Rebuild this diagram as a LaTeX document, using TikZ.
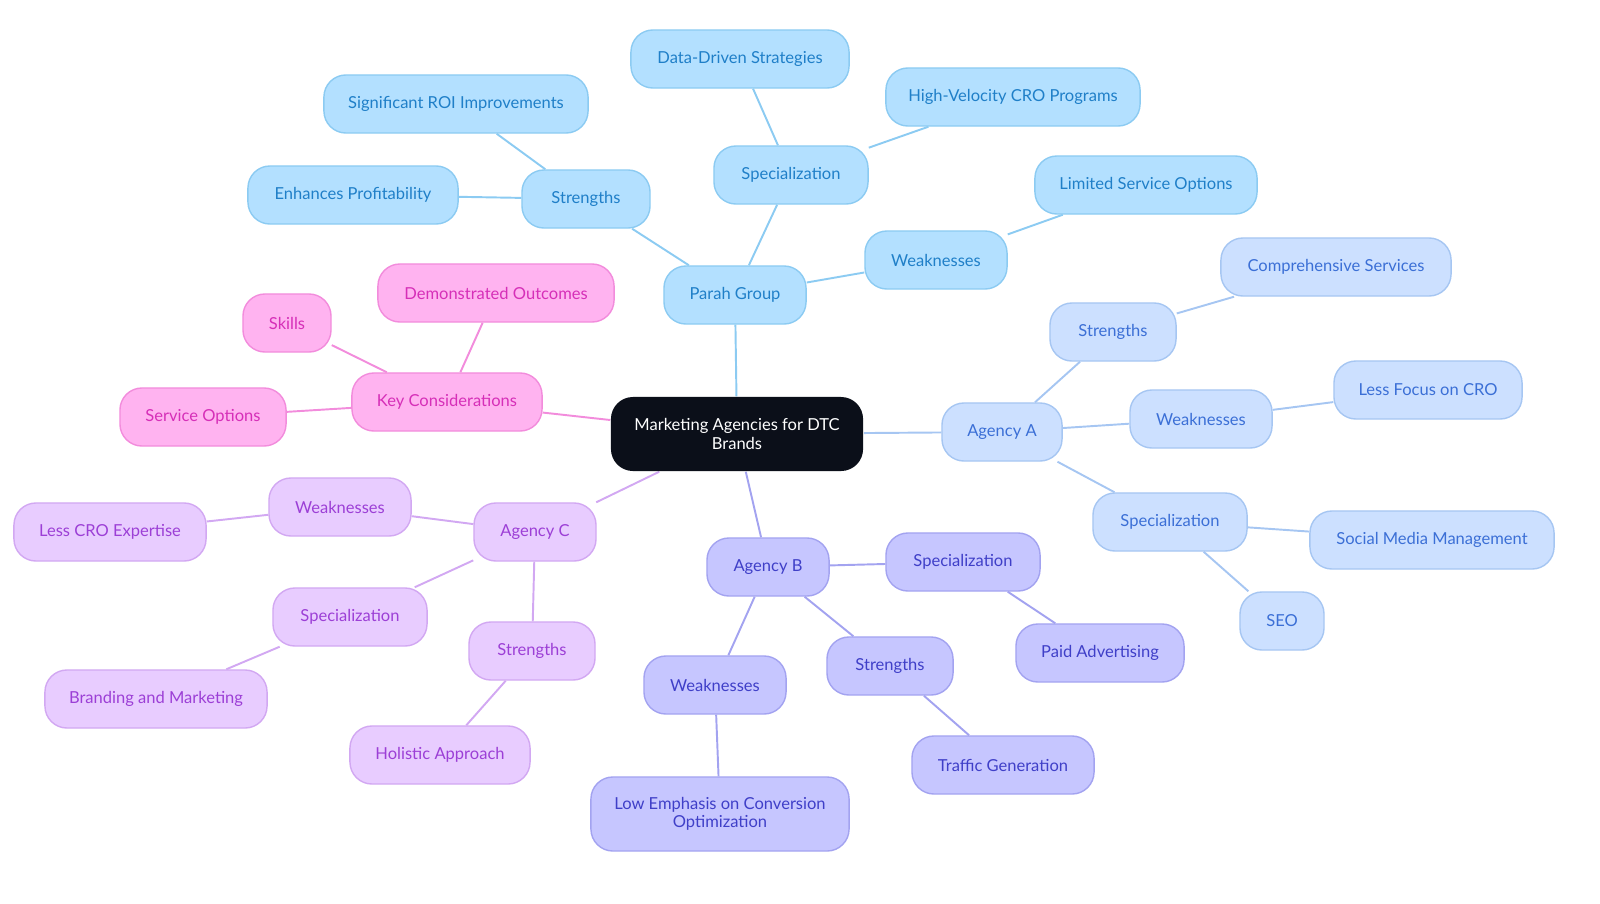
\documentclass[tikz,border=0pt]{standalone}
\usepackage{fontspec}
\setmainfont{Lato}
\usetikzlibrary{backgrounds}
\definecolor{pfill}{HTML}{B3E0FF}\definecolor{ptext}{HTML}{1F7FC8}\definecolor{pline}{HTML}{8CCBF2}
\definecolor{afill}{HTML}{CCE0FF}\definecolor{atext}{HTML}{3B6FD6}\definecolor{aline}{HTML}{A6C6F2}
\definecolor{bfill}{HTML}{C6C6FF}\definecolor{btext}{HTML}{3F3FC8}\definecolor{bline}{HTML}{A3A3F0}
\definecolor{cfill}{HTML}{E8CCFF}\definecolor{ctext}{HTML}{9C3FD6}\definecolor{cline}{HTML}{D2A8F2}
\definecolor{kfill}{HTML}{FFB3F0}\definecolor{ktext}{HTML}{D62FB8}\definecolor{kline}{HTML}{F28CDC}
\definecolor{center}{HTML}{0B0F19}
\tikzset{
  box/.style={rounded corners=0.22cm, minimum height=0.58cm, inner sep=0pt, align=center,
    font=\fontsize{4.7}{5.2}\selectfont, line width=0.4pt},
  pg/.style={box, fill=pfill, draw=pline, text=ptext},
  ag/.style={box, fill=afill, draw=aline, text=atext},
  bg/.style={box, fill=bfill, draw=bline, text=btext},
  cg/.style={box, fill=cfill, draw=cline, text=ctext},
  kg/.style={box, fill=kfill, draw=kline, text=ktext},
  link/.style={line width=0.55pt}
}
\begin{document}
\begin{tikzpicture}[x=0.01cm,y=-0.01cm]
\useasboundingbox (0,0) rectangle (1600,903);
% centre
\node[box, fill=center, text=white, minimum width=2.52cm, minimum height=0.74cm] (root) at (737,434) {Marketing Agencies for DTC\\Brands};
% Parah Group
\node[pg, minimum width=1.42cm] (parah) at (735,295) {Parah Group};
\node[pg, minimum width=1.28cm] (pstr) at (586,199) {Strengths};
\node[pg, minimum width=2.64cm] (proi) at (456,104) {Significant ROI Improvements};
\node[pg, minimum width=2.10cm] (pprof) at (353,195) {Enhances Profitability};
\node[pg, minimum width=1.54cm] (pspec) at (791,175) {Specialization};
\node[pg, minimum width=2.18cm] (pdata) at (740,59) {Data-Driven Strategies};
\node[pg, minimum width=2.54cm] (pcro) at (1013,97) {High-Velocity CRO Programs};
\node[pg, minimum width=1.42cm] (pweak) at (936,260) {Weaknesses};
\node[pg, minimum width=2.22cm] (plim) at (1146,185) {Limited Service Options};
% Agency A
\node[ag, minimum width=1.20cm] (agA) at (1002,432) {Agency A};
\node[ag, minimum width=1.26cm] (astr) at (1113,332) {Strengths};
\node[ag, minimum width=2.30cm] (acomp) at (1336,267) {Comprehensive Services};
\node[ag, minimum width=1.42cm] (aweak) at (1201,419) {Weaknesses};
\node[ag, minimum width=1.88cm] (aless) at (1428,390) {Less Focus on CRO};
\node[ag, minimum width=1.54cm] (aspec) at (1170,522) {Specialization};
\node[ag, minimum width=2.44cm] (asoc) at (1432,540) {Social Media Management};
\node[ag, minimum width=0.84cm] (aseo) at (1282,621) {SEO};
% Agency B
\node[bg, minimum width=1.22cm] (agB) at (768,567) {Agency B};
\node[bg, minimum width=1.54cm] (bspec) at (963,562) {Specialization};
\node[bg, minimum width=1.68cm] (bpaid) at (1100,653) {Paid Advertising};
\node[bg, minimum width=1.26cm] (bstr) at (890,666) {Strengths};
\node[bg, minimum width=1.82cm] (btraf) at (1003,765) {Traffic Generation};
\node[bg, minimum width=1.42cm] (bweak) at (715,685) {Weaknesses};
\node[bg, minimum width=2.58cm, minimum height=0.74cm] (blow) at (720,814) {Low Emphasis on Conversion\\Optimization};
% Agency C
\node[cg, minimum width=1.22cm] (agC) at (535,532) {Agency C};
\node[cg, minimum width=1.42cm] (cweak) at (340,507) {Weaknesses};
\node[cg, minimum width=1.92cm] (cless) at (110,532) {Less CRO Expertise};
\node[cg, minimum width=1.54cm] (cspec) at (350,617) {Specialization};
\node[cg, minimum width=2.22cm] (cbrand) at (156,699) {Branding and Marketing};
\node[cg, minimum width=1.26cm] (cstr) at (532,651) {Strengths};
\node[cg, minimum width=1.80cm] (chol) at (440,755) {Holistic Approach};
% Key Considerations
\node[kg, minimum width=1.90cm] (key) at (447,402) {Key Considerations};
\node[kg, minimum width=2.36cm] (kdem) at (496,293) {Demonstrated Outcomes};
\node[kg, minimum width=0.88cm] (kskill) at (287,323) {Skills};
\node[kg, minimum width=1.66cm] (kserv) at (203,417) {Service Options};
% links
\begin{scope}[on background layer]
\foreach \a/\b in {root/parah, parah/pstr, pstr/proi, pstr/pprof, parah/pspec, pspec/pdata, pspec/pcro, parah/pweak, pweak/plim}
  \draw[link, pline] (\a) -- (\b);
\foreach \a/\b in {root/agA, agA/astr, astr/acomp, agA/aweak, aweak/aless, agA/aspec, aspec/asoc, aspec/aseo}
  \draw[link, aline] (\a) -- (\b);
\foreach \a/\b in {root/agB, agB/bspec, bspec/bpaid, agB/bstr, bstr/btraf, agB/bweak, bweak/blow}
  \draw[link, bline] (\a) -- (\b);
\foreach \a/\b in {root/agC, agC/cweak, cweak/cless, agC/cspec, cspec/cbrand, agC/cstr, cstr/chol}
  \draw[link, cline] (\a) -- (\b);
\foreach \a/\b in {root/key, key/kdem, key/kskill, key/kserv}
  \draw[link, kline] (\a) -- (\b);
\end{scope}
\end{tikzpicture}
\end{document}
